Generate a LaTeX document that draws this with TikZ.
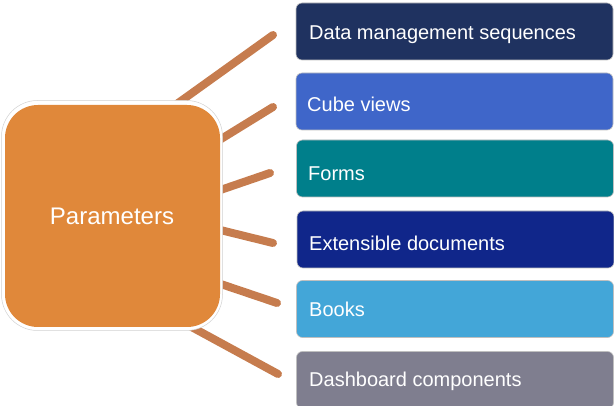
\documentclass[tikz,border=0pt]{standalone}
\usepackage{fontspec}
\setmainfont{Liberation Sans}
\definecolor{cOrange}{HTML}{E0883A}
\definecolor{cLine}{HTML}{C67C4E}
\definecolor{cA}{HTML}{1F3260}
\definecolor{cB}{HTML}{3F66C9}
\definecolor{cC}{HTML}{007F8B}
\definecolor{cD}{HTML}{10268A}
\definecolor{cE}{HTML}{43A6D8}
\definecolor{cF}{HTML}{7F7E8F}
\tikzset{
  spoke/.style={draw=cLine, line width=8pt, line cap=round},
  itembox/.style={draw=black!25, line width=0.6pt, rounded corners=6pt, minimum width=317pt, minimum height=57pt, inner sep=0pt},
  itemtext/.style={anchor=base west, text=white, font=\fontsize{20}{24}\selectfont, inner sep=0pt},
}
\begin{document}
\begin{tikzpicture}[x=1pt,y=-1pt]
\useasboundingbox (0,0) rectangle (614,406);
% spoke coordinates
\coordinate (s1) at (160,116); \coordinate (e1) at (273,35);
\coordinate (s2) at (200,152); \coordinate (e2) at (273,107);
\coordinate (s3) at (200,197); \coordinate (e3) at (270,173);
\coordinate (s4) at (200,225); \coordinate (e4) at (273,243);
\coordinate (s5) at (200,277); \coordinate (e5) at (277,303);
\coordinate (s6) at (175,318); \coordinate (e6) at (278,374);
\foreach \i in {1,...,6} { \draw[spoke] (s\i) -- (e\i); }
% central box
\node[draw=black!18, fill=white, line width=0.5pt, rounded corners=36pt, minimum width=221pt, minimum height=230pt, inner sep=0pt] (Pout) at (112,215.5) {};
\node[fill=cOrange, rounded corners=33pt, minimum width=215pt, minimum height=222pt, inner sep=0pt] (P) at (112.5,216) {};
\node[text=white, font=\fontsize{24}{28}\selectfont, inner sep=0pt, anchor=base] (Plabel) at (112,225) {Parameters};
% right boxes
\node[itembox, fill=cA] (b1) at (454.5,31.5) {};
\node[itembox, fill=cB] (b2) at (454.5,101.5) {};
\node[itembox, fill=cC] (b3) at (455,168.5) {};
\node[itembox, fill=cD] (b4) at (455.5,239.5) {};
\node[itembox, fill=cE] (b5) at (455,309) {};
\node[itembox, fill=cF] (b6) at (455,380) {};
\node[itemtext] (t1) at (309,40) {Data management sequences};
\node[itemtext] (t2) at (307,112) {Cube views};
\node[itemtext] (t3) at (308,181) {Forms};
\node[itemtext] (t4) at (309,251) {Extensible documents};
\node[itemtext] (t5) at (309,317) {Books};
\node[itemtext] (t6) at (309,387) {Dashboard components};
\end{tikzpicture}
\end{document}
